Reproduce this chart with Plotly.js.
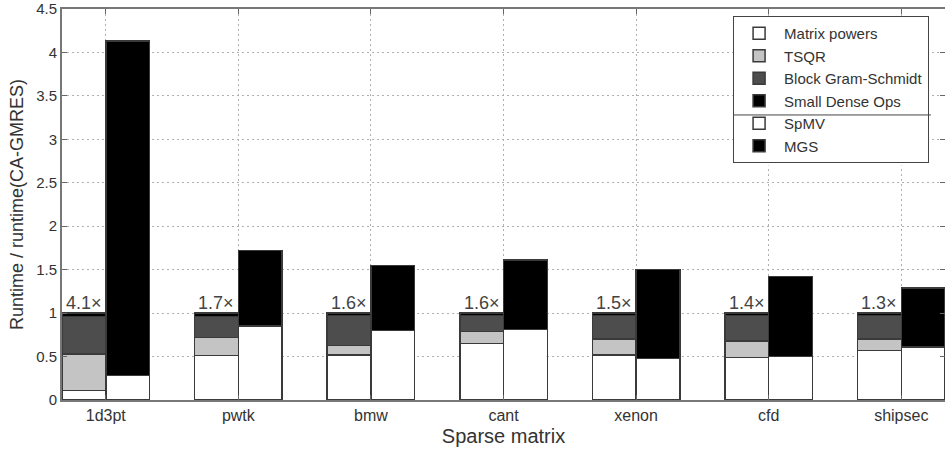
<!DOCTYPE html>
<html>
<head>
<meta charset="utf-8">
<script src="https://cdn.plot.ly/plotly-3.0.1.min.js"></script>
<style>html,body{margin:0;padding:0;background:#fff;}#chart{width:945px;height:454px;}</style>
</head>
<body>
<div id="chart"></div>
<script>
// ---- data ----
const categories = ['1d3pt', 'pwtk', 'bmw', 'cant', 'xenon', 'cfd', 'shipsec'];
const speedupLabels = ['4.1×', '1.7×', '1.6×', '1.6×', '1.5×', '1.4×', '1.3×'];
// CA-GMRES breakdown (normalized, stacked segments)
const matrixPowers = [0.11, 0.51, 0.52, 0.65, 0.52, 0.49, 0.57];
const tsqr         = [0.42, 0.21, 0.11, 0.14, 0.18, 0.19, 0.13];
const blockGS      = [0.43, 0.24, 0.34, 0.18, 0.27, 0.29, 0.27];
const smallDense   = [0.04, 0.04, 0.03, 0.03, 0.03, 0.03, 0.03];
// standard GMRES breakdown
const spmv         = [0.28, 0.85, 0.80, 0.81, 0.48, 0.50, 0.61];
const mgs          = [3.85, 0.87, 0.75, 0.80, 1.02, 0.92, 0.68];

const idx = categories.map((_, i) => i);
const HALF = 0.165, W = 0.33;
const xl = idx.map(i => i - HALF);
const xr = idx.map(i => i + HALF);
const outline = {color: '#3a3a3a', width: 1.5};

function bar(name, x, y, color, group) {
  return {type: 'bar', name, x, y, width: W, legendgroup: group,
    marker: {color, line: outline}, hoverinfo: 'name+y'};
}
const traces = [
  bar('Matrix powers', xl, matrixPowers, '#ffffff', 'ca'),
  bar('TSQR', xl, tsqr, '#c4c4c4', 'ca'),
  bar('Block Gram-Schmidt', xl, blockGS, '#4d4d4d', 'ca'),
  bar('Small Dense Ops', xl, smallDense, '#000000', 'ca'),
  bar('SpMV', xr, spmv, '#ffffff', 'std'),
  bar('MGS', xr, mgs, '#000000', 'std')
];

const FONT = 'Liberation Sans, Arial, Helvetica, sans-serif';
const annotations = idx.map(i => ({
  x: xl[i], y: 1, xref: 'x', yref: 'y', text: speedupLabels[i],
  showarrow: false, yanchor: 'bottom', xanchor: 'center', yshift: -2,
  font: {family: FONT, size: 18, color: '#444'}
}));

const layout = {
  width: 945, height: 454,
  margin: {l: 62, r: 0, t: 9, b: 54},
  paper_bgcolor: '#fff', plot_bgcolor: '#fff',
  barmode: 'stack',
  font: {family: FONT, color: '#333', size: 16},
  xaxis: {
    range: [-0.33, 6.33], tickvals: idx, ticktext: categories,
    ticks: 'inside', ticklen: 5, tickcolor: '#666', tickwidth: 1,
    showline: true, linecolor: '#777', linewidth: 2, mirror: 'ticks',
    showgrid: true, gridcolor: '#b0b0b0', griddash: '2px,3px', gridwidth: 1,
    zeroline: false, tickfont: {size: 16, color: '#333'},
    title: {text: 'Sparse matrix', font: {size: 20, color: '#333'}, standoff: 6}
  },
  yaxis: {
    range: [0, 4.5], dtick: 0.5, tick0: 0,
    ticks: 'inside', ticklen: 5, tickcolor: '#666', tickwidth: 1,
    showline: true, linecolor: '#777', linewidth: 2, mirror: 'ticks',
    showgrid: true, gridcolor: '#b0b0b0', griddash: '2px,3px', gridwidth: 1,
    zeroline: false, tickfont: {size: 15, color: '#333'},
    title: {text: 'Runtime / runtime(CA-GMRES)', font: {size: 18, color: '#333'}, standoff: 8}
  },
  legend: {
    x: 0.76, y: 0.982, xanchor: 'left', yanchor: 'top',
    traceorder: 'normal', bgcolor: 'rgba(0,0,0,0)',
    bordercolor: '#444', borderwidth: 1, tracegroupgap: 4,
    itemwidth: 40, font: {size: 15, color: '#333'}
  },
  shapes: [
    {type: 'rect', xref: 'paper', yref: 'paper', x0: 0.76, x1: 0.984, y0: 0.6, y1: 0.982,
     fillcolor: '#fff', line: {width: 0}, layer: 'above'},
    {type: 'line', xref: 'paper', yref: 'paper', x0: 0.76, x1: 0.984, y0: 0.729, y1: 0.729,
     line: {color: '#444', width: 1}, layer: 'above'}
  ],
  annotations,
  showlegend: true
};

Plotly.newPlot('chart', traces, layout, {displayModeBar: false, staticPlot: true});
</script>
</body>
</html>
